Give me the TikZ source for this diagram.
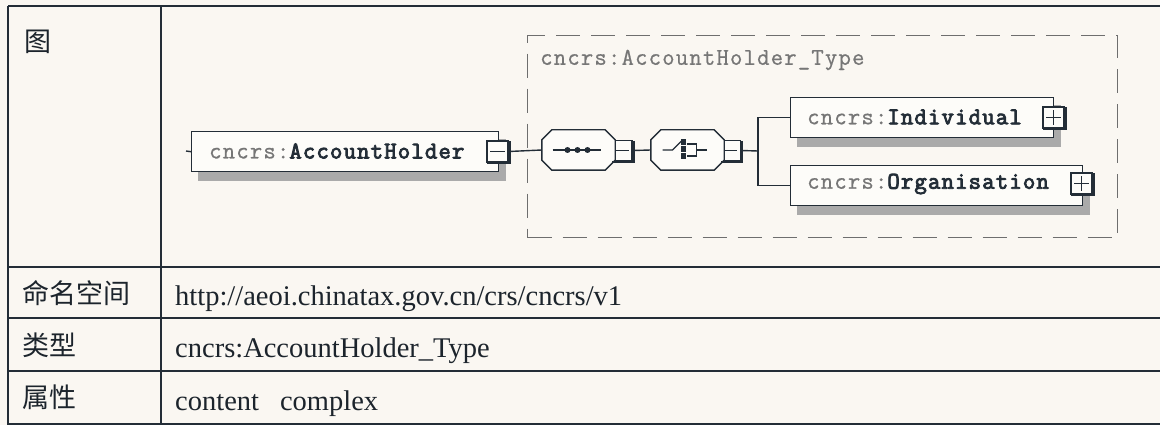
\documentclass[tikz,border=0pt]{standalone}
\usepackage{fontspec}
\setmainfont{Liberation Serif}
\setmonofont{Latin Modern Mono}[FakeBold=0.8, BoldFont={Latin Modern Mono}, BoldFeatures={FakeBold=3.5}, LetterSpace=5]
\newfontfamily\cjk{Noto Sans CJK SC}
\usetikzlibrary{calc,backgrounds}
\definecolor{bg}{RGB}{250,247,242}
\definecolor{boxfill}{RGB}{253,252,249}
\definecolor{ink}{RGB}{35,45,55}
\definecolor{pref}{RGB}{118,118,118}
\definecolor{shd}{RGB}{170,170,170}
\definecolor{dsh}{RGB}{110,110,110}
\tikzset{
  tline/.style={draw=ink, line width=1.6pt},
  elbox/.style={draw=ink, line width=1.4pt, fill=boxfill, anchor=north west, inner sep=0pt},
  eltext/.style={anchor=west, inner sep=0pt, font=\ttfamily\fontsize{24}{24}\selectfont},
  pmbox/.style={draw=ink, line width=1.4pt, fill=boxfill, minimum size=21pt, inner sep=0pt},
  octo/.style={minimum width=73pt, minimum height=40pt, inner sep=0pt},
  octline/.style={draw=ink, line width=1.4pt, fill=boxfill},
  conn/.style={draw=ink, line width=1.4pt},
  sym/.style={draw=ink, line width=1.4pt},
  grpbox/.style={draw=dsh, line width=1.2pt, dash pattern=on 24pt off 11pt, anchor=north west, inner sep=0pt},
  cntext/.style={anchor=west, inner sep=0pt, font=\cjk\fontsize{27}{27}\selectfont, text=ink!80!black},
  entext/.style={anchor=base west, inner sep=0pt, font=\fontsize{28.5}{28.5}\selectfont, text=ink!80!black},
}
\newcommand\pfx[1]{\textcolor{pref}{#1}}
\newcommand\nm[1]{\textcolor{ink}{\bfseries #1}}
\newcommand\octshape[2][]{%
  \path[#1] ($(#2.north west)+(0,10)$) -- ($(#2.north west)+(10,0)$) -- ($(#2.north east)+(-10,0)$)
    -- ($(#2.north east)+(0,10)$) -- ($(#2.south east)+(0,-10)$) -- ($(#2.south east)+(-10,0)$)
    -- ($(#2.south west)+(10,0)$) -- ($(#2.south west)+(0,-10)$) -- cycle;}
\newcommand\shadowof[1]{%
  \fill[shd] ($(#1.north west)+(7,8)$) rectangle ($(#1.south east)+(7,9)$);}
\newcommand\minusin[1]{%
  \draw[ink, line width=2.4pt] ($(#1.north east)+(0.6,1)$) -- ($(#1.south east)+(0.6,0.6)$) -- ($(#1.south west)+(1,0.6)$);
  \draw[sym] ($(#1.west)+(4,0)$) -- ($(#1.east)+(-4,0)$);}
\newcommand\plusin[1]{%
  \minusin{#1}
  \draw[sym] ($(#1.north)+(0,4)$) -- ($(#1.south)+(0,-4)$);}
\begin{document}
\begin{tikzpicture}[x=1pt,y=-1pt]
\useasboundingbox (0,0) rectangle (1160,425);
\begin{scope}[on background layer]
  \fill[bg] (0,0) rectangle (1160,425);
\end{scope}

% table
\draw[tline] (8,6) -- (1160,6);
\draw[tline] (8,6) -- (8,425);
\draw[tline] (161,6) -- (161,425);
\draw[tline] (8,267) -- (1160,267);
\draw[tline] (8,318) -- (1160,318);
\draw[tline] (8,371) -- (1160,371);
\draw[tline] (8,424) -- (1160,424);

\node[cntext] (l1) at (24,42) {图};
\node[cntext] (l2) at (22,293) {命名空间};
\node[cntext] (l3) at (22,345) {类型};
\node[cntext] (l4) at (22,397) {属性};
\node[entext] (v2) at (175,305) {http://aeoi.chinatax.gov.cn/crs/cncrs/v1};
\node[entext] (v3) at (175,357) {cncrs:AccountHolder\_Type};
\node[entext] (v4) at (175,410) {content\hspace{21pt}complex};

% group (complex type) box
\node[grpbox, minimum width=590pt, minimum height=202pt] (grp) at (527,35) {};
\node[eltext, text=pref] (grpt) at (540,60) {cncrs:AccountHolder\_Type};

% element boxes
\node[elbox, minimum width=307pt, minimum height=40pt] (ah) at (191,131) {};
\node[eltext] (aht) at (209,151) {\pfx{cncrs:}\nm{AccountHolder}};
\node[pmbox] (ahm) at (497.5,151.5) {};

\node[elbox, minimum width=263pt, minimum height=40pt] (ind) at (790,97) {};
\node[eltext] (indt) at (807,117) {\pfx{cncrs:}\nm{Individual}};
\node[pmbox] (indp) at (1053.5,117.5) {};

\node[elbox, minimum width=292pt, minimum height=40pt] (org) at (790,165) {};
\node[eltext] (orgt) at (807,184) {\pfx{cncrs:}\nm{Organisation}};
\node[pmbox] (orgp) at (1081.5,183.5) {};

% compositors
\node[octo] (seq) at (578.5,150) {};
\node[octo] (cho) at (687.5,150) {};
\node[pmbox, minimum size=20pt] (seqm) at (622,150.5) {};
\node[pmbox, minimum size=20pt] (chom) at (730.5,150.5) {};

\begin{scope}[on background layer]
  \shadowof{ah}
  \shadowof{ind}
  \shadowof{org}
  \begin{scope}[shift={(7,8)}]
    \octshape[fill=shd]{seq}
    \octshape[fill=shd]{cho}
  \end{scope}
\end{scope}

\octshape[octline]{seq}
\octshape[octline]{cho}
\minusin{ahm}
\minusin{seqm}
\minusin{chom}
\plusin{indp}
\plusin{orgp}

% sequence icon
\draw[sym] ($(seq.center)+(-26,0)$) -- ($(seq.center)+(22,0)$);
\foreach \dx in {-11,-1,9} \fill[ink] ($(seq.center)+(\dx,0)$) circle (3pt);

% choice icon
\draw[sym] ($(cho.center)+(-25,0)$) -- ($(cho.center)+(-15,0)$) -- ($(cho.center)+(-5,-10)$);
\foreach \dy in {-8,-1,6} \fill[ink] ($(cho.center)+(-4,\dy)+(-2.7,-2.7)$) rectangle ($(cho.center)+(-4,\dy)+(2.7,2.7)$);
\draw[sym] ($(cho.center)+(-1,-6)$) -- ($(cho.center)+(9,-6)$) -- ($(cho.center)+(9,6)$) -- ($(cho.center)+(-1,6)$);
\draw[sym] ($(cho.center)+(9,0)$) -- ($(cho.center)+(19,0)$);

% connectors
\coordinate (stub) at (186,151);
\coordinate (br) at (758,151);
\draw[conn] (stub) -- (ah.west);
\draw[conn] (ahm.east) -- (seq.west);
\draw[conn] (seqm.east) -- (cho.west);
\draw[conn] (chom.east) -- (br);
\draw[conn] (br) |- (ind.west);
\draw[conn] (br) |- (org.west);
\end{tikzpicture}
\end{document}
